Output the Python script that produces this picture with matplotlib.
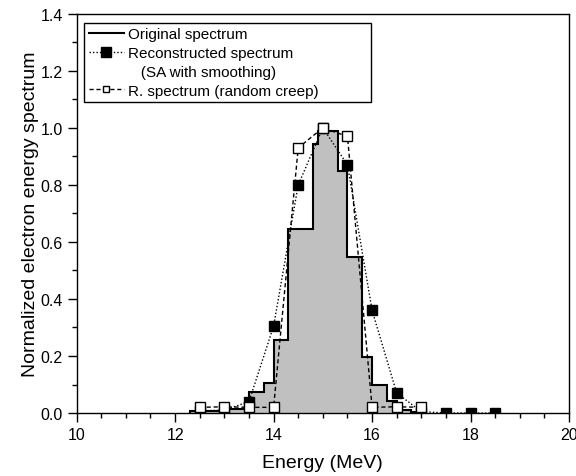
import matplotlib

matplotlib.use("Agg")
import matplotlib.pyplot as plt
from matplotlib.lines import Line2D
from matplotlib.ticker import FormatStrFormatter, MultipleLocator

plt.rcParams["font.family"] = ["Liberation Sans", "DejaVu Sans"]

# original spectrum (step histogram): bin edges and heights
orig_edges = [12.3, 13.0, 13.5, 13.8, 14.0, 14.3, 14.8, 14.9, 15.3, 15.5,
              15.8, 16.0, 16.3, 16.5, 16.8, 17.0]
orig_vals = [0.008, 0.015, 0.074, 0.105, 0.255, 0.646, 0.945, 0.99, 0.848,
             0.547, 0.197, 0.099, 0.043, 0.01, 0.003]

# reconstructed spectrum (SA with smoothing)
sa_energy = [12.5, 13.0, 13.5, 14.0, 14.5, 15.0, 15.5, 16.0, 16.5, 17.0, 17.5, 18.0, 18.5]
sa_vals = [0.008, 0.01, 0.04, 0.305, 0.80, 1.0, 0.87, 0.36, 0.07, 0.005, 0.0, 0.0, 0.0]

# reconstructed spectrum (random creep)
rc_energy = [12.5, 13.0, 13.5, 14.0, 14.5, 15.0, 15.5, 16.0, 16.5, 17.0]
rc_vals = [0.02, 0.022, 0.02, 0.02, 0.93, 1.0, 0.97, 0.02, 0.022, 0.02]

DOTTED = (0, (1, 1.5))
DASHED = (0, (3, 2))

fig = plt.figure(figsize=(5.76, 4.77), dpi=100)
ax = fig.add_axes([0.133, 0.132, 0.855, 0.837])

ax.stairs(orig_vals, orig_edges, fill=True, color="#c0c0c0", linewidth=0)
ax.stairs(orig_vals, orig_edges, color="black", linewidth=1.5)

ax.plot(sa_energy, sa_vals, color="black", linestyle=DOTTED, linewidth=1,
        marker="s", markersize=7, markerfacecolor="black", markeredgecolor="black")
ax.plot(rc_energy, rc_vals, color="black", linestyle=DASHED, linewidth=1,
        marker="s", markersize=7, markerfacecolor="white", markeredgecolor="black",
        markeredgewidth=1)

ax.set_xlim(10, 20)
ax.set_ylim(0, 1.4)
ax.xaxis.set_major_locator(MultipleLocator(2))
ax.xaxis.set_minor_locator(MultipleLocator(0.5))
ax.yaxis.set_major_locator(MultipleLocator(0.2))
ax.yaxis.set_minor_locator(MultipleLocator(0.1))
ax.yaxis.set_major_formatter(FormatStrFormatter("%.1f"))
ax.tick_params(which="both", direction="out", top=False, right=False, labelsize=11.5)
ax.tick_params(which="major", length=6.5, width=1)
ax.tick_params(which="minor", length=3.6, width=1)
for spine in ax.spines.values():
    spine.set_linewidth(1)

ax.set_xlabel("Energy (MeV)", fontsize=14, labelpad=9)
ax.set_ylabel("Normalized electron energy spectrum", fontsize=14, labelpad=1)

handles = [
    Line2D([], [], color="black", linewidth=1.5),
    Line2D([], [], color="black", linestyle=DOTTED, linewidth=1, marker="s",
           markersize=7, markerfacecolor="black", markeredgecolor="black"),
    Line2D([], [], linestyle="none"),
    Line2D([], [], color="black", linestyle=DASHED, linewidth=1, marker="s",
           markersize=5, markerfacecolor="white", markeredgecolor="black"),
]
labels = ["Original spectrum", "Reconstructed spectrum", "   (SA with smoothing)",
          "R. spectrum (random creep)"]
leg = ax.legend(handles, labels, loc="upper left",
                bbox_to_anchor=(0.015, 0.02, 0.583, 0.958), mode="expand",
                borderaxespad=0, fontsize=11, frameon=True, fancybox=False,
                edgecolor="black", framealpha=1, handlelength=2.3,
                handletextpad=0.25, labelspacing=0.32, borderpad=0.3,
                numpoints=1)
leg.get_frame().set_linewidth(1)

fig.savefig("out.png", dpi=100)
